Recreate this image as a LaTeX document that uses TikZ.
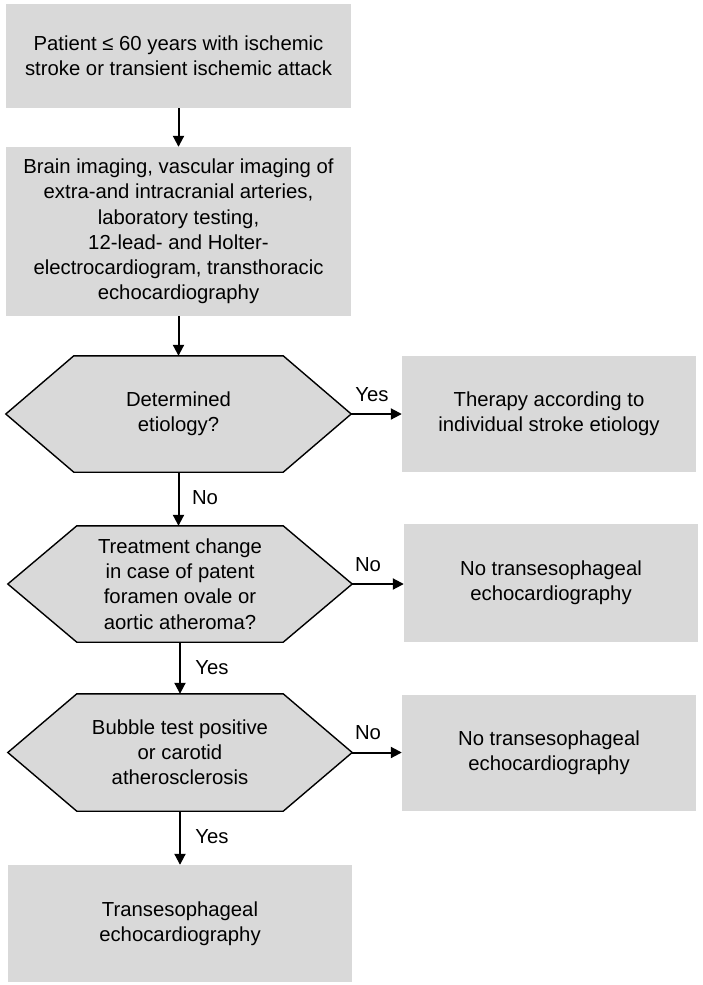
\documentclass[tikz,border=0pt]{standalone}
\usepackage{fontspec}
\setmainfont{Liberation Sans}
\usetikzlibrary{arrows.meta,backgrounds}
\definecolor{boxgray}{RGB}{217,217,217}
\begin{document}
\begin{tikzpicture}[x=1pt,y=-1pt,
  txt/.style={align=center,font=\fontsize{20.3}{25.2}\selectfont,text=black},
  box/.style={txt,fill=boxgray,draw=none,inner sep=0pt},
  hexnode/.style={txt,inner sep=0pt},
  hexline/.style={draw=black,line width=1.4pt,fill=boxgray,line join=miter},
  arr/.style={line width=2pt,-{Triangle[length=11pt,width=11pt]}},
  lab/.style={font=\fontsize{20.3}{24}\selectfont,text=black,inner sep=0pt}]
\useasboundingbox (0,0) rectangle (702,985);

\node[box,minimum width=345pt,minimum height=104pt] (b1) at (178.5,56)
  {Patient ≤ 60 years with ischemic\\stroke or transient ischemic attack};
\node[box,minimum width=345pt,minimum height=169pt] (b2) at (178.5,231.5)
  {Brain imaging, vascular imaging of\\extra-and intracranial arteries,\\laboratory testing,\\12-lead- and Holter-\\electrocardiogram, transthoracic\\echocardiography};

\node[hexnode,minimum width=345pt,minimum height=116pt] (h1) at (178.5,414)
  {Determined\\etiology?};
\node[hexnode,minimum width=344pt,minimum height=116pt] (h2) at (180,584)
  {Treatment change\\in case of patent\\foramen ovale or\\aortic atheroma?};
\node[hexnode,minimum width=344pt,minimum height=117pt] (h3) at (180,752.5)
  {Bubble test positive\\or carotid\\atherosclerosis};
\node[box,minimum width=344pt,minimum height=117pt] (b3) at (180,923.5)
  {Transesophageal\\echocardiography};

\node[box,minimum width=294pt,minimum height=116pt] (r1) at (549,414)
  {Therapy according to\\individual stroke etiology};
\node[box,minimum width=294pt,minimum height=118pt] (r2) at (551,583)
  {No transesophageal\\echocardiography};
\node[box,minimum width=294pt,minimum height=116pt] (r3) at (549,753)
  {No transesophageal\\echocardiography};

\begin{scope}[on background layer]
\foreach \h/\p in {h1/68,h2/69,h3/69}{
  \draw[hexline] (\h.west) -- ([xshift=\p pt]\h.north west) -- ([xshift=-\p pt]\h.north east)
    -- (\h.east) -- ([xshift=-\p pt]\h.south east) -- ([xshift=\p pt]\h.south west) -- cycle;
}
\end{scope}

\draw[arr] (b1.south) -- (b2.north);
\draw[arr] (b2.south) -- (h1.north);
\draw[arr] (h1.south) -- (h1.south |- h2.north);
\draw[arr] (h2.south) -- (h3.north);
\draw[arr] (h3.south) -- (b3.north);
\draw[arr] (h1.east) -- (r1.west);
\draw[arr] (h2.east) -- (r2.west |- h2.east);
\draw[arr] (h3.east) -- (r3.west |- h3.east);

\node[lab] (l1) at (372,395) {Yes};
\node[lab] (l2) at (205,498) {No};
\node[lab] (l3) at (368,565) {No};
\node[lab] (l4) at (212,668) {Yes};
\node[lab] (l5) at (368,733) {No};
\node[lab] (l6) at (212,837) {Yes};
\end{tikzpicture}
\end{document}
